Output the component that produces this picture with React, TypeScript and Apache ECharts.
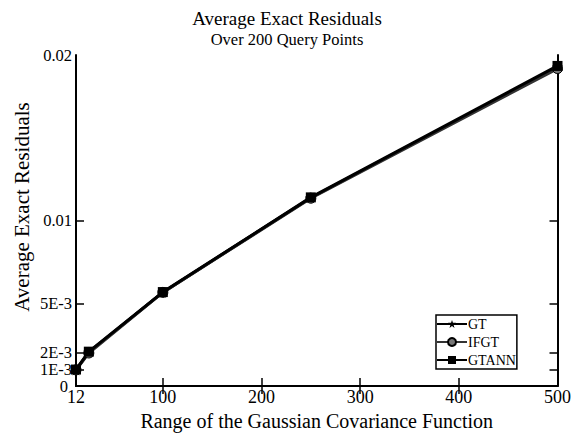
import React, { useEffect, useRef } from "react";
import * as echarts from "echarts";

const xValues = [12, 25, 100, 250, 500];
const gtValues = [0.00098, 0.00205, 0.00566, 0.01138, 0.01928];
const ifgtValues = [0.00098, 0.00200, 0.00566, 0.01135, 0.01918];
const gtannValues = [0.00100, 0.00208, 0.00568, 0.01140, 0.01934];
const xTickValues = [12, 100, 200, 300, 400, 500];
const yTickValues = [0, 0.001, 0.002, 0.005, 0.01, 0.02];
const yTickLabels = ["0", "1E-3", "2E-3", "5E-3", "0.01", "0.02"];
const seriesNames = ["GT", "IFGT", "GTANN"];

const FONT = "'Liberation Serif', 'DejaVu Serif', serif";
const starPath =
  "path://M5,0 L6.2,3.4 L10,3.4 L7,5.6 L8.1,9.5 L5,7.2 L1.9,9.5 L3,5.6 L0,3.4 L3.8,3.4 Z";

const yLabel = (v: number) => {
  const i = yTickValues.findIndex((t) => Math.abs(t - v) < 1e-9);
  return i >= 0 ? yTickLabels[i] : "";
};

export default function App() {
  const ref = useRef<HTMLDivElement>(null);
  useEffect(() => {
    if (!ref.current) return;
    const chart = echarts.init(ref.current, null, { renderer: "svg" });
    const pair = (vals: number[]) => xValues.map((x, i) => [x, vals[i]]);
    const axisLine = { show: true, lineStyle: { color: "#000", width: 2 } };
    const tick = (vals: number[]) => ({
      show: true,
      inside: true,
      length: 8,
      customValues: vals,
      lineStyle: { color: "#000", width: 1.5 },
    });
    const yLabelStyle = {
      fontFamily: FONT,
      fontSize: 16.5,
      lineHeight: 15,
      color: "#000",
      margin: 4,
      showMinLabel: true,
      showMaxLabel: true,
      formatter: yLabel,
    };
    const labelOnlyAxis = (vals: number[], extra: any = {}) => ({
      type: "value",
      position: "left",
      min: 0,
      max: 0.02,
      axisLine: { show: false },
      axisTick: { show: false },
      axisLabel: { customValues: vals, ...yLabelStyle, ...extra },
      splitLine: { show: false },
    });
    chart.setOption({
      animation: false,
      backgroundColor: "#fff",
      title: {
        text: "Average Exact Residuals",
        subtext: "Over 200 Query Points",
        left: "center",
        top: 4,
        itemGap: 3,
        textStyle: { fontFamily: FONT, fontSize: 19, fontWeight: "normal", color: "#000" },
        subtextStyle: { fontFamily: FONT, fontSize: 16.5, color: "#000" },
      },
      grid: { left: 76, right: 16, top: 55, bottom: 43 },
      legend: {
        orient: "vertical",
        left: 436,
        top: 315,
        padding: [2, 1, 2, 0],
        itemGap: 4,
        itemWidth: 30,
        itemHeight: 10,
        borderColor: "#000",
        borderWidth: 1.5,
        backgroundColor: "#fff",
        textStyle: { fontFamily: FONT, fontSize: 14, color: "#000", padding: [0, 0, 0, -4] },
        data: seriesNames,
      },
      graphic: [
        {
          type: "text",
          x: 22,
          y: 207,
          rotation: Math.PI / 2,
          style: {
            text: "Average Exact Residuals",
            fontFamily: FONT,
            fontSize: 21,
            fill: "#000",
            align: "center",
            verticalAlign: "middle",
          },
        },
      ],
      xAxis: [
        {
          type: "value",
          min: 12,
          max: 500,
          name: "Range of the Gaussian Covariance Function",
          nameLocation: "middle",
          nameGap: 19,
          nameTextStyle: { fontFamily: FONT, fontSize: 20, color: "#000" },
          axisLine,
          axisTick: tick(xTickValues.slice(1, 5)),
          axisLabel: {
            customValues: xTickValues,
            fontFamily: FONT,
            fontSize: 18,
            color: "#000",
            margin: 3,
            lineHeight: 16,
            showMinLabel: true,
            showMaxLabel: true,
          },
          splitLine: { show: false },
        },
        {
          type: "value",
          position: "top",
          min: 12,
          max: 500,
          axisLine,
          axisTick: tick(xTickValues.slice(1, 5)),
          axisLabel: { show: false },
          splitLine: { show: false },
        },
      ],
      yAxis: [
        {
          type: "value",
          min: 0,
          max: 0.02,
          axisLine,
          axisTick: tick(yTickValues.slice(1, 5)),
          axisLabel: {
            customValues: [yTickValues[1], yTickValues[3], yTickValues[4], yTickValues[5]],
            ...yLabelStyle,
          },
          splitLine: { show: false },
        },
        {
          type: "value",
          position: "right",
          min: 0,
          max: 0.02,
          axisLine,
          axisTick: tick(yTickValues.slice(1, 5)),
          axisLabel: { show: false },
          splitLine: { show: false },
        },
        labelOnlyAxis([yTickValues[2]]),
        labelOnlyAxis([yTickValues[0]], { margin: 8 }),
      ],
      series: [
        {
          name: "GT",
          type: "line",
          data: pair(gtValues),
          symbol: starPath,
          symbolSize: 11,
          lineStyle: { color: "#000", width: 3 },
          itemStyle: { color: "#000" },
        },
        {
          name: "IFGT",
          type: "line",
          data: pair(ifgtValues),
          symbol: "circle",
          symbolSize: 10,
          lineStyle: { color: "#333", width: 3 },
          itemStyle: { color: "#777", borderColor: "#000", borderWidth: 1 },
        },
        {
          name: "GTANN",
          type: "line",
          data: pair(gtannValues),
          symbol: "rect",
          symbolSize: 10,
          lineStyle: { color: "#000", width: 3 },
          itemStyle: { color: "#000" },
        },
      ],
    });
    return () => chart.dispose();
  }, []);
  return (
    <div
      ref={ref}
      style={{ position: "absolute", left: 0, top: 0, width: 574, height: 436 }}
    />
  );
}
